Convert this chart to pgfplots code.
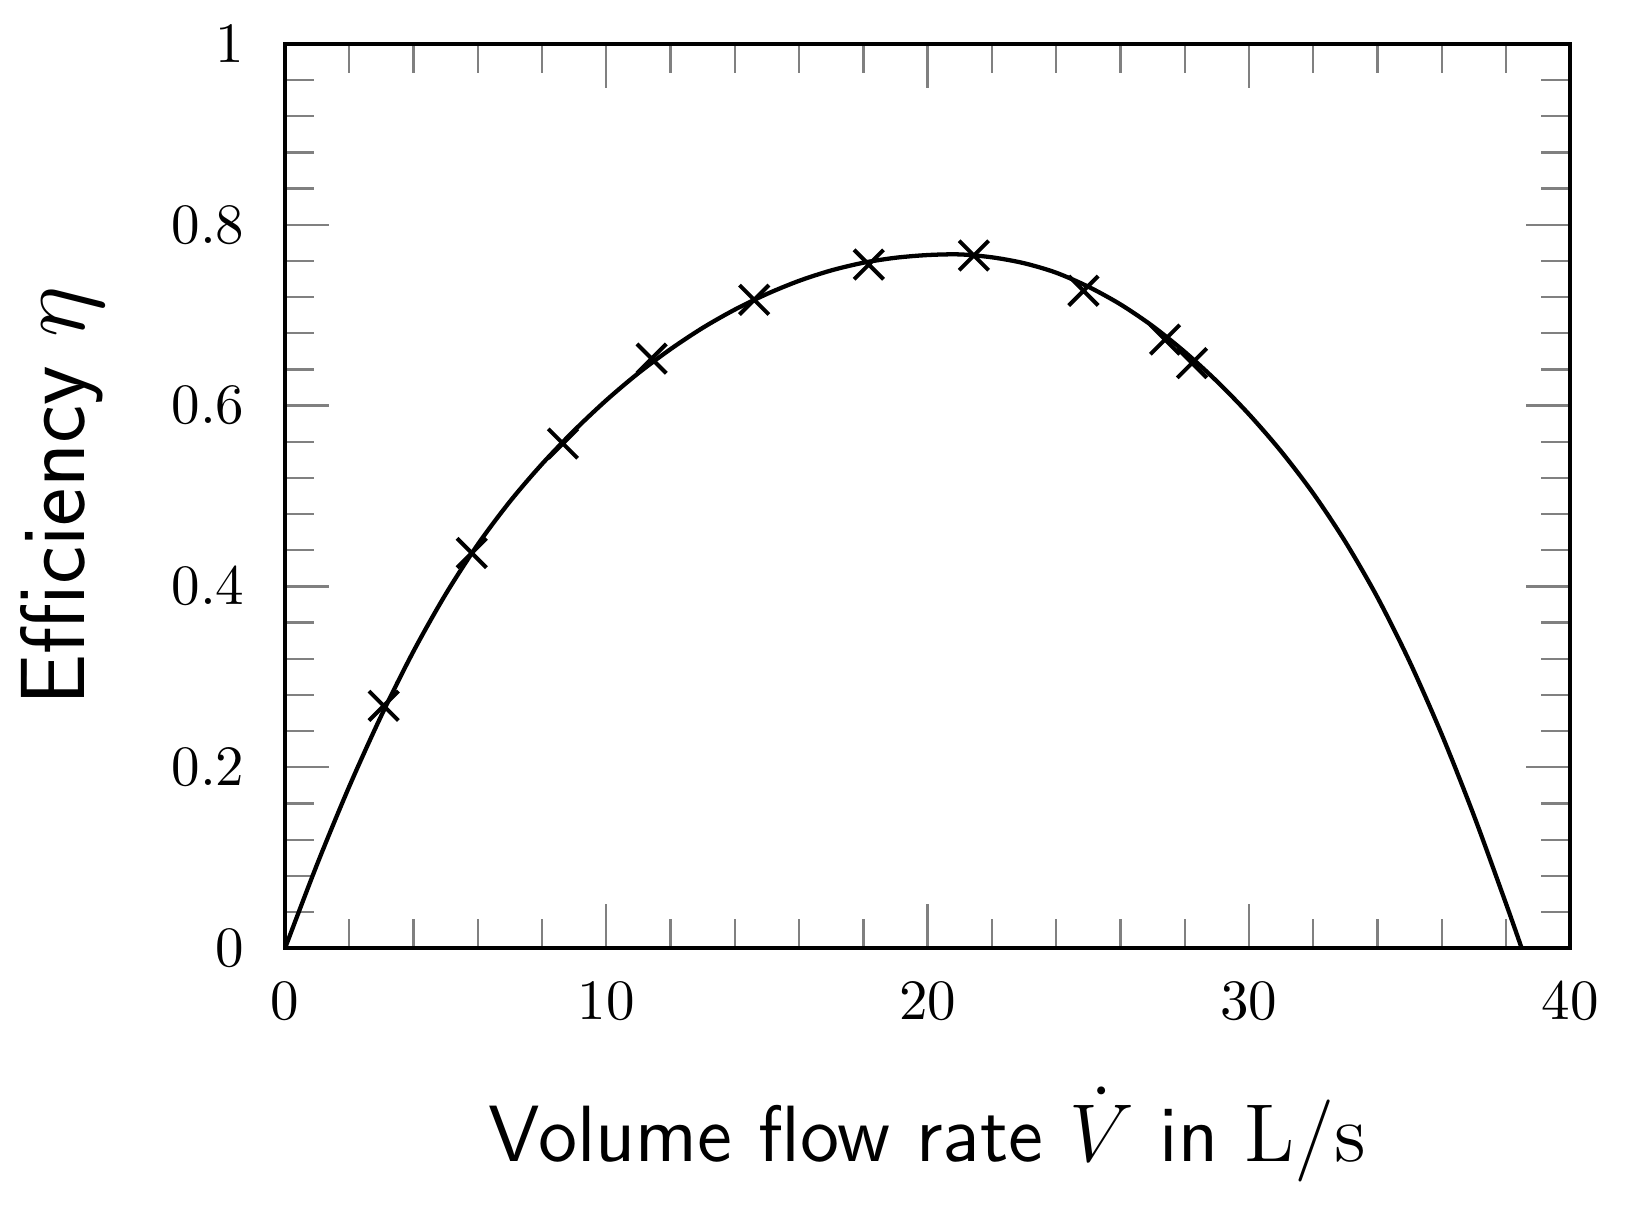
\documentclass[border=0pt]{standalone}
\usepackage{pgfplots}
\pgfplotsset{compat=1.18}
\begin{document}
\begin{tikzpicture}
\begin{axis}[
    name=ax,
    width=225.4pt, height=158.6pt,
    scale only axis,
    xmin=0, xmax=40,
    ymin=0, ymax=1,
    xtick={0,10,20,30,40},
    ytick={0,0.2,0.4,0.6,0.8,1},
    minor x tick num=4,
    minor y tick num=4,
    tick align=inside,
    major tick length=7.7pt,
    minor tick length=5.1pt,
    tick style={black!50, line width=0.4pt},
    axis line style={line width=0.75pt},
    xticklabel style={yshift=-2.5pt},
    yticklabel style={xshift=-3.6pt},
    xlabel={Volume flow rate $\dot{V}$ in $\mathrm{L/s}$},
    ylabel={Efficiency $\eta$},
    xlabel style={font=\sffamily\fontsize{14}{17}\selectfont,
        at={(axis description cs:0.5,-0.2364)}, anchor=base},
    ylabel style={font=\sffamily\fontsize{16}{19}\selectfont,
        at={(axis description cs:-0.1557,0.5)}, anchor=base},
]

% fitted curve
\addplot[black, line width=0.75pt, smooth, no marks]
    coordinates {
     (0,0) (1,0.0930) (2,0.1790) (3,0.2575) (4,0.3285) (5,0.3915)
     (6,0.4465) (7,0.4940) (8,0.5355) (9,0.5725) (10,0.6060)
     (11,0.6360) (12,0.6625) (13,0.6860) (14,0.7062) (15,0.7235)
     (16,0.7380) (17,0.7495) (18,0.7580) (19,0.7635) (20,0.7665)
     (21,0.7672) (22,0.7640) (23,0.7575) (24,0.7470) (25,0.7315)
     (26,0.7120) (27,0.6880) (28,0.6595) (29,0.6270) (30,0.5905)
     (31,0.5495) (32,0.5030) (33,0.4495) (34,0.3880) (35,0.3170)
     (36,0.2365) (37,0.1470) (38,0.0495) (38.49,0)
    };

% measured points
\addplot[black, only marks, mark=x, mark size=3.65pt, mark options={line width=0.7pt}]
    coordinates {
     (3.07,0.268) (5.81,0.437) (8.65,0.558) (11.41,0.652) (14.60,0.717)
     (18.17,0.756) (21.44,0.766) (24.85,0.727) (27.39,0.673) (28.23,0.647)
    };

\end{axis}
\pgfresetboundingbox
\path[use as bounding box] ([shift={(-50pt,-45.6pt)}]ax.south west)
    rectangle ([shift={(12.6pt,7.7pt)}]ax.north east);
\end{tikzpicture}
\end{document}
